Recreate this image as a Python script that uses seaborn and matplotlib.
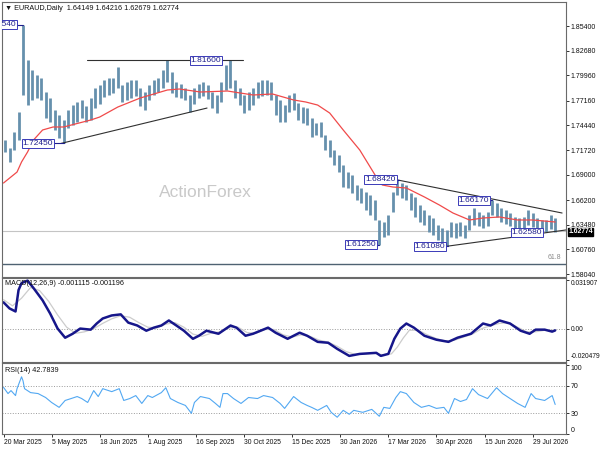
import numpy as np
import matplotlib
matplotlib.use("Agg")
import matplotlib.pyplot as plt
import seaborn as sns

# daily bars, one sample per 3 sessions (high / low)
hi = [1.7283, 1.7194, 1.7371, 1.7591, 1.8554, 1.8165, 1.8055, 1.7999, 1.7966, 1.7812,
      1.7746, 1.7613, 1.7558, 1.7503, 1.7613, 1.7668, 1.7702, 1.7724, 1.7657, 1.7746,
      1.7856, 1.7889, 1.7944, 1.7966, 1.7966, 1.8088, 1.7889, 1.7922, 1.7944, 1.7944,
      1.7856, 1.7812, 1.7889, 1.7944, 1.7966, 1.8055, 1.8160, 1.8033, 1.7922, 1.7900,
      1.7856, 1.7779, 1.7856, 1.7900, 1.7922, 1.7889, 1.7812, 1.7779, 1.7922, 1.8110,
      1.8160, 1.7944, 1.7856, 1.7779, 1.7812, 1.7856, 1.7922, 1.7944, 1.7944, 1.7922,
      1.7779, 1.7724, 1.7668, 1.7779, 1.7801, 1.7691, 1.7646, 1.7635, 1.7525, 1.7470,
      1.7481, 1.7338, 1.7283, 1.7172, 1.7117, 1.7007, 1.6929, 1.6896, 1.6786, 1.6753,
      1.6709, 1.6676, 1.6621, 1.6400, 1.6378, 1.6455, 1.6709, 1.6842, 1.6808, 1.6786,
      1.6698, 1.6654, 1.6565, 1.6510, 1.6455, 1.6422, 1.6345, 1.6312, 1.6290, 1.6378,
      1.6367, 1.6378, 1.6345, 1.6455, 1.6532, 1.6488, 1.6455, 1.6488, 1.6617, 1.6588,
      1.6532, 1.6510, 1.6477, 1.6433, 1.6422, 1.6433, 1.6510, 1.6477, 1.6422, 1.6400,
      1.6400, 1.6455, 1.6422]
lo = [1.7150, 1.7040, 1.7172, 1.7283, 1.7779, 1.7668, 1.7724, 1.7746, 1.7724, 1.7525,
      1.7481, 1.7393, 1.7305, 1.7245, 1.7415, 1.7448, 1.7481, 1.7525, 1.7481, 1.7503,
      1.7635, 1.7680, 1.7757, 1.7779, 1.7801, 1.7856, 1.7702, 1.7724, 1.7746, 1.7768,
      1.7657, 1.7613, 1.7724, 1.7779, 1.7812, 1.7856, 1.7922, 1.7801, 1.7757, 1.7746,
      1.7724, 1.7591, 1.7680, 1.7746, 1.7768, 1.7735, 1.7635, 1.7580, 1.7702, 1.7834,
      1.7856, 1.7746, 1.7668, 1.7580, 1.7613, 1.7668, 1.7746, 1.7768, 1.7779, 1.7724,
      1.7558, 1.7481, 1.7481, 1.7591, 1.7613, 1.7503, 1.7470, 1.7448, 1.7316, 1.7338,
      1.7316, 1.7172, 1.7095, 1.7007, 1.6929, 1.6764, 1.6753, 1.6698, 1.6621, 1.6588,
      1.6510, 1.6455, 1.6400, 1.6125, 1.6212, 1.6234, 1.6488, 1.6676, 1.6643, 1.6621,
      1.6510, 1.6433, 1.6378, 1.6345, 1.6268, 1.6234, 1.6179, 1.6146, 1.6108, 1.6212,
      1.6201, 1.6223, 1.6201, 1.6290, 1.6345, 1.6334, 1.6312, 1.6334, 1.6455, 1.6433,
      1.6378, 1.6356, 1.6334, 1.6290, 1.6279, 1.6290, 1.6345, 1.6323, 1.6290, 1.6258,
      1.6268, 1.6301, 1.6268]

# moving average (red)
ma_idx = [0, 9, 12, 16, 20, 26, 33, 40, 58, 64, 76, 91, 109, 117, 131, 149, 166, 179, 193, 201,
          209, 217, 226, 237, 248, 252, 259, 268, 280, 290, 299, 310, 319, 330, 342, 352, 367]
ma_val = [1.6808, 1.6929, 1.7040, 1.7150, 1.7283, 1.7393, 1.7426, 1.7426, 1.7503, 1.7536,
          1.7646, 1.7746, 1.7834, 1.7845, 1.7812, 1.7823, 1.7779, 1.7790, 1.7724, 1.7702,
          1.7668, 1.7580, 1.7393, 1.7172, 1.6874, 1.6786, 1.6764, 1.6753, 1.6654, 1.6565,
          1.6477, 1.6400, 1.6422, 1.6433, 1.6400, 1.6400, 1.6378]

# MACD(12,26,9)
macd_idx = [0, 4, 8, 10, 12, 16, 20, 26, 31, 36, 41, 46, 51, 58, 62, 66, 72, 78, 83, 89,
            95, 100, 105, 110, 115, 120, 126, 130, 135, 143, 151, 155, 161, 166, 176, 181, 189, 197, 202, 209,
            216, 222, 230, 237, 248, 251, 256, 260, 264, 268, 273, 280, 288, 296, 302, 311, 319, 324, 330, 337,
            344, 350, 354, 360, 365, 367]
macd_val = [0.0173, 0.0133, 0.0113, 0.0253, 0.0299, 0.0315, 0.0266, 0.0186, 0.0100, 0.0001,
            -0.0059, -0.0033, 0.0001, -0.0006, 0.0034, 0.0067, 0.0087, 0.0094, 0.0040, 0.0021,
            -0.0013, 0.0007, 0.0021, 0.0054, 0.0021, -0.0013, -0.0066, -0.0046, -0.0013, -0.0033,
            0.0021, 0.0007, -0.0046, -0.0033, 0.0007, -0.0026, -0.0066, -0.0026, -0.0046, -0.0086,
            -0.0092, -0.0132, -0.0178, -0.0165, -0.0158, -0.0178, -0.0165, -0.0066, 0.0001, 0.0034,
            0.0007, -0.0046, -0.0072, -0.0086, -0.0059, -0.0033, 0.0034, 0.0021, 0.0054, 0.0034,
            -0.0013, -0.0033, -0.0006, -0.0006, -0.0019, -0.0011]
sig_idx = [0, 6, 12, 18, 24, 30, 36, 42, 48, 54, 60, 66, 72, 78, 84, 90, 96, 102, 108, 114,
           120, 126, 132, 138, 144, 150, 156, 162, 168, 174, 180, 186, 192, 198, 204, 210, 216, 222, 228, 234,
           240, 246, 252, 258, 262, 266, 270, 276, 282, 288, 294, 300, 306, 312, 318, 324, 330, 336, 342, 348,
           354, 360, 367]
sig_val = [0.0190, 0.0150, 0.0200, 0.0270, 0.0250, 0.0180, 0.0090, 0.0010, -0.0030, -0.0020,
           0.0000, 0.0035, 0.0065, 0.0085, 0.0075, 0.0040, 0.0010, 0.0005, 0.0030, 0.0040,
           0.0010, -0.0035, -0.0050, -0.0030, -0.0020, 0.0005, 0.0010, -0.0025, -0.0030, -0.0005,
           -0.0005, -0.0040, -0.0055, -0.0040, -0.0050, -0.0075, -0.0088, -0.0115, -0.0150, -0.0168,
           -0.0165, -0.0160, -0.0170, -0.0165, -0.0120, -0.0060, -0.0010, -0.0010, -0.0040, -0.0065,
           -0.0080, -0.0075, -0.0055, -0.0035, 0.0000, 0.0020, 0.0035, 0.0040, 0.0010, -0.0020,
           -0.0020, -0.0010, -0.0012]

# RSI(14)
rsi_idx = [0, 3, 5, 8, 9, 12, 13, 14, 18, 23, 28, 32, 37, 41, 45, 49, 52, 56, 60, 63,
           66, 72, 77, 80, 84, 88, 92, 96, 99, 105, 108, 111, 116, 121, 125, 127, 131, 137, 141, 144,
           146, 149, 153, 158, 163, 169, 173, 179, 184, 187, 193, 198, 202, 205, 209, 215, 218, 222, 226, 230,
           233, 239, 245, 250, 253, 257, 261, 264, 268, 273, 278, 283, 288, 293, 296, 300, 304, 308, 312, 316,
           322, 328, 332, 337, 342, 347, 351, 354, 360, 365, 367]
rsi_val = [67.6, 58.6, 62.9, 55.7, 65.7, 82.9, 77.0, 65.7, 60.0, 58.6,
           52.9, 45.7, 38.6, 48.6, 51.4, 54.3, 51.4, 45.7, 62.9, 54.3,
           65.7, 61.4, 65.7, 48.6, 51.4, 55.7, 44.3, 55.7, 52.9, 60.0,
           67.1, 51.4, 45.7, 41.4, 30.0, 45.7, 54.3, 51.4, 44.3, 38.6,
           58.6, 58.6, 51.4, 44.3, 52.9, 51.4, 55.7, 52.9, 44.3, 37.1,
           54.3, 45.7, 41.4, 38.6, 34.3, 41.4, 31.4, 24.3, 34.3, 28.6,
           34.3, 31.4, 35.7, 25.7, 38.6, 37.1, 52.9, 61.4, 58.6, 45.7,
           38.6, 41.4, 37.1, 38.6, 30.0, 51.4, 47.1, 50.0, 65.7, 57.1,
           51.4, 67.1, 58.6, 51.4, 44.3, 38.6, 58.6, 51.4, 48.6, 55.7, 42.8]

price_ticks = [1.85400, 1.82680, 1.79960, 1.77160, 1.74440, 1.71720,
               1.69000, 1.66200, 1.63480, 1.60760, 1.58040]
date_labels = ["20 Mar 2025", "5 May 2025", "18 Jun 2025", "1 Aug 2025", "16 Sep 2025",
               "30 Oct 2025", "15 Dec 2025", "30 Jan 2026", "17 Mar 2026", "30 Apr 2026",
               "15 Jun 2026", "29 Jul 2026"]
last_price = 1.62774
fib_level = 1.5915

sns.set_style("white")
plt.rcParams['font.family'] = ['Liberation Sans', 'DejaVu Sans']

fig = plt.figure(figsize=(6, 4.5), dpi=100)
ax = fig.add_axes([2 / 600, 173 / 450, 564 / 600, 275 / 450])
macd_ax = fig.add_axes([2 / 600, 88 / 450, 564 / 600, 84 / 450], sharex=ax)
rsi_ax = fig.add_axes([2 / 600, 16 / 450, 564 / 600, 71 / 450], sharex=ax)

BAR = '#6690ad'
NAVY = '#1e1e8c'
LINE = '#303030'
TXT = '#111111'

# --- price panel
bar_idx = np.arange(len(hi)) * 3 + 1
ax.axhline(last_price, color='#c4c4c4', lw=0.8, zorder=1)
ax.axhline(fib_level, color='#4f6272', lw=1.0, zorder=1)
ax.text(371, fib_level + 0.0035, "61.8", ha='right', va='bottom', fontsize=5, color='#8a8a8a')
ax.text(134, 1.6698, "ActionForex", ha='center', va='center', fontsize=12.5, color='#c9c9c9', zorder=0)

ax.vlines(bar_idx, lo, hi, color=BAR, lw=2.0, zorder=2)
sns.lineplot(x=ma_idx, y=ma_val, ax=ax, color='#f04a4a', lw=0.9, zorder=3)

# trend lines
ax.plot([55.5, 159.3], [1.8160, 1.8160], color=LINE, lw=0.8, zorder=4)
ax.plot([38.3, 135.4], [1.7245, 1.7635], color=LINE, lw=0.8, zorder=4)
ax.plot([262.0, 371.6], [1.6842, 1.6477], color=LINE, lw=0.8, zorder=4)
ax.plot([294.0, 374.2], [1.6108, 1.6290], color=LINE, lw=0.8, zorder=4)


def price_label(x, y, text, ha='right', to=None):
    ax.text(x, y, text, ha=ha, va='center', fontsize=6, color=NAVY, zorder=6, clip_on=True,
            bbox=dict(boxstyle='square,pad=0.12', fc='white', ec='#3a3ab8', lw=0.7))
    if to is not None:
        ax.plot([x, to], [y, y], color=NAVY, lw=0.8, zorder=5)


price_label(8.5, 1.8554, "1.85540", to=13)
price_label(134.7, 1.8160, "1.81600", ha='center')
price_label(33.0, 1.7245, "1.72450", to=40)
price_label(261.0, 1.6842, "1.68420", to=263)
price_label(323.0, 1.6617, "1.66170", to=325)
price_label(248.0, 1.6125, "1.61250", to=250)
price_label(294.0, 1.6108, "1.61080", to=296)
price_label(348.3, 1.6260, "1.62580", ha='center')

ax.text(0.006, 0.978, "\u25bc EURAUD,Daily  1.64149 1.64216 1.62679 1.62774", transform=ax.transAxes,
        fontsize=5.2, va='center', ha='left', color=TXT)
ax.annotate("1.62774", xy=(1.004, last_price - 0.0008), xycoords=('axes fraction', 'data'),
            ha='left', va='center', fontsize=4.9, color='white', fontweight='bold',
            bbox=dict(boxstyle='square,pad=0.08', fc='black', ec='black'))

ax.set_ylim(1.5771, 1.8805)
ax.set_yticks(price_ticks)
ax.set_yticklabels([f"{v:.5f}" for v in price_ticks])

# --- MACD panel
macd_ax.axhline(0, color='#9a9a9a', lw=0.7, ls=':')
sns.lineplot(x=sig_idx, y=sig_val, ax=macd_ax, color='#cccccc', lw=0.9)
sns.lineplot(x=macd_idx, y=macd_val, ax=macd_ax, color='#16168a', lw=1.8)
macd_ax.set_ylim(-0.02180, 0.03323)
macd_ax.set_yticks([0.031907, 0.0, -0.020479])
macd_ax.set_yticklabels(["0.031907", "0.00", "-0.020479"])
macd_ax.text(0.006, 0.93, "MACD(12,26,9) -0.001115 -0.001196", transform=macd_ax.transAxes,
             fontsize=5.2, va='center', ha='left', color=TXT)

# --- RSI panel
for lvl in (70, 30):
    rsi_ax.axhline(lvl, color='#9a9a9a', lw=0.7, ls=':')
sns.lineplot(x=rsi_idx, y=rsi_val, ax=rsi_ax, color='#52a8f2', lw=0.8)
rsi_ax.set_ylim(0, 102.9)
rsi_ax.set_yticks([100, 70, 30, 0])
rsi_ax.set_yticklabels(["100", "70", "30", "0"])
rsi_ax.text(0.006, 0.9, "RSI(14) 42.7839", transform=rsi_ax.transAxes,
            fontsize=5.2, va='center', ha='left', color=TXT)

rsi_ax.set_xlim(-1.0, 374.2)
rsi_ax.set_xticks(np.arange(len(date_labels)) * 32)
rsi_ax.set_xticklabels(date_labels)
for lab in rsi_ax.get_xticklabels():
    lab.set_ha('left')

for a in (ax, macd_ax, rsi_ax):
    a.set_xlabel("")
    a.set_ylabel("")
    a.yaxis.tick_right()
    a.tick_params(axis='y', right=True, left=False, labelright=True, labelleft=False,
                  length=2, width=0.6, pad=1.2, labelsize=5.0, colors=TXT)
    a.tick_params(axis='x', bottom=True, length=2, width=0.6, pad=1.5, labelsize=4.9, colors=TXT)
    for s in a.spines.values():
        s.set_color('#6a6a6a')
        s.set_linewidth(0.8)
    if a is not rsi_ax:
        a.tick_params(axis='x', labelbottom=False, bottom=False)

macd_ax.tick_params(axis='y', labelsize=4.8)
macd_ax.get_yticklabels()[0].set_va('top')
macd_ax.get_yticklabels()[2].set_va('bottom')
rsi_ax.get_yticklabels()[0].set_va('top')
rsi_ax.get_yticklabels()[3].set_va('bottom')

fig.savefig("out.png", dpi=100)
